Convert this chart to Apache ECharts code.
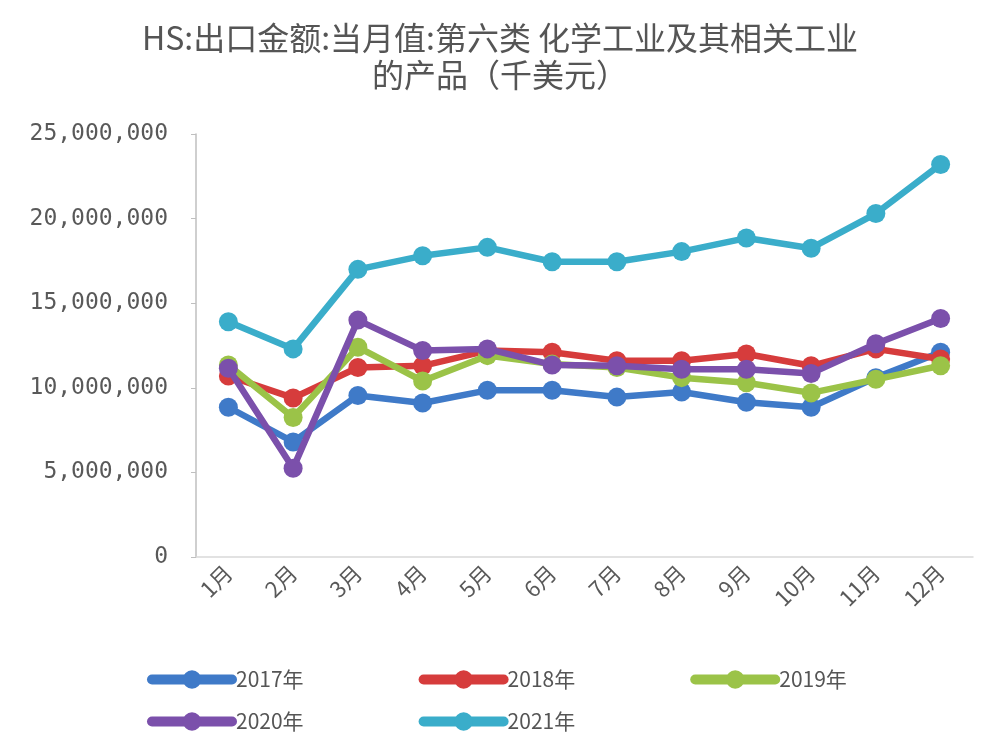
<!DOCTYPE html>
<html>
<head>
<meta charset="utf-8">
<script src="https://cdn.jsdelivr.net/npm/echarts@6/dist/echarts.min.js"></script>
<style>html,body{margin:0;padding:0;background:#fff}#c{width:1000px;height:754px}</style>
</head>
<body>
<div id="c"></div>
<script>
const titleText = 'HS:出口金额:当月值:第六类 化学工业及其相关工业\n的产品（千美元）';
const months = ['1月','2月','3月','4月','5月','6月','7月','8月','9月','10月','11月','12月'];
const y2017 = [8850000, 6800000, 9550000, 9100000, 9850000, 9850000, 9450000, 9750000, 9150000, 8850000, 10600000, 12100000];
const y2018 = [10700000, 9400000, 11200000, 11300000, 12200000, 12100000, 11600000, 11600000, 12000000, 11300000, 12300000, 11700000];
const y2019 = [11350000, 8250000, 12400000, 10400000, 11900000, 11400000, 11200000, 10600000, 10300000, 9700000, 10500000, 11300000];
const y2020 = [11150000, 5250000, 14000000, 12200000, 12300000, 11350000, 11300000, 11100000, 11100000, 10850000, 12600000, 14100000];
const y2021 = [13900000, 12300000, 17000000, 17800000, 18300000, 17450000, 17450000, 18050000, 18850000, 18250000, 20300000, 23200000];
const seriesNames = ['2017年','2018年','2019年','2020年','2021年'];
const seriesColors = ['#3f7ac8','#d63c3c','#9bc348','#7b50ab','#3aadca'];
const seriesData = [y2017, y2018, y2019, y2020, y2021];

const chart = echarts.init(document.getElementById('c'));
const cjk = '"Noto Sans CJK SC", sans-serif';
const legendBase = {
  left: 147, padding: 0,
  itemWidth: 80, itemHeight: 23, itemGap: 115,
  lineStyle: { width: 10, cap: 'round' },
  textStyle: { fontFamily: cjk, fontSize: 21, color: '#555', padding: [0,0,0,-1] }
};
chart.setOption({
  backgroundColor: '#fff',
  animation: false,
  title: {
    text: titleText,
    left: 'center',
    top: 14,
    textStyle: { fontFamily: cjk, fontSize: 32, fontWeight: 'normal', color: '#555', lineHeight: 37 }
  },
  legend: [
    Object.assign({ data: seriesNames.slice(0, 3), top: 669 }, legendBase),
    Object.assign({ data: seriesNames.slice(3), top: 711 }, legendBase)
  ],
  grid: { left: 196, right: 27, top: 134, bottom: 197, containLabel: false },
  xAxis: {
    type: 'category',
    data: months,
    boundaryGap: true,
    axisLine: { show: true, lineStyle: { color: '#d9d9d9', width: 1.5 } },
    axisTick: { show: false },
    axisLabel: { rotate: 45, margin: 12, fontFamily: cjk, fontSize: 22, color: '#595959', interval: 0 }
  },
  yAxis: {
    type: 'value',
    min: 0, max: 25000000, interval: 5000000,
    axisLine: { show: true, lineStyle: { color: '#bfbfbf', width: 1.5 } },
    axisTick: { show: true, length: 5, lineStyle: { color: '#bfbfbf' } },
    splitLine: { show: false },
    axisLabel: {
      margin: 28,
      fontFamily: '"DejaVu Sans Mono", monospace', fontSize: 23, color: '#595959',
      formatter: v => String(v).replace(/\B(?=(\d{3})+(?!\d))/g, ',')
    }
  },
  series: seriesData.map((d, i) => ({
    name: seriesNames[i],
    type: 'line',
    data: d,
    symbol: 'circle',
    symbolSize: 19,
    lineStyle: { width: 6.5, color: seriesColors[i] },
    itemStyle: { color: seriesColors[i] },
    z: 2 + i
  }))
});
</script>
</body>
</html>
